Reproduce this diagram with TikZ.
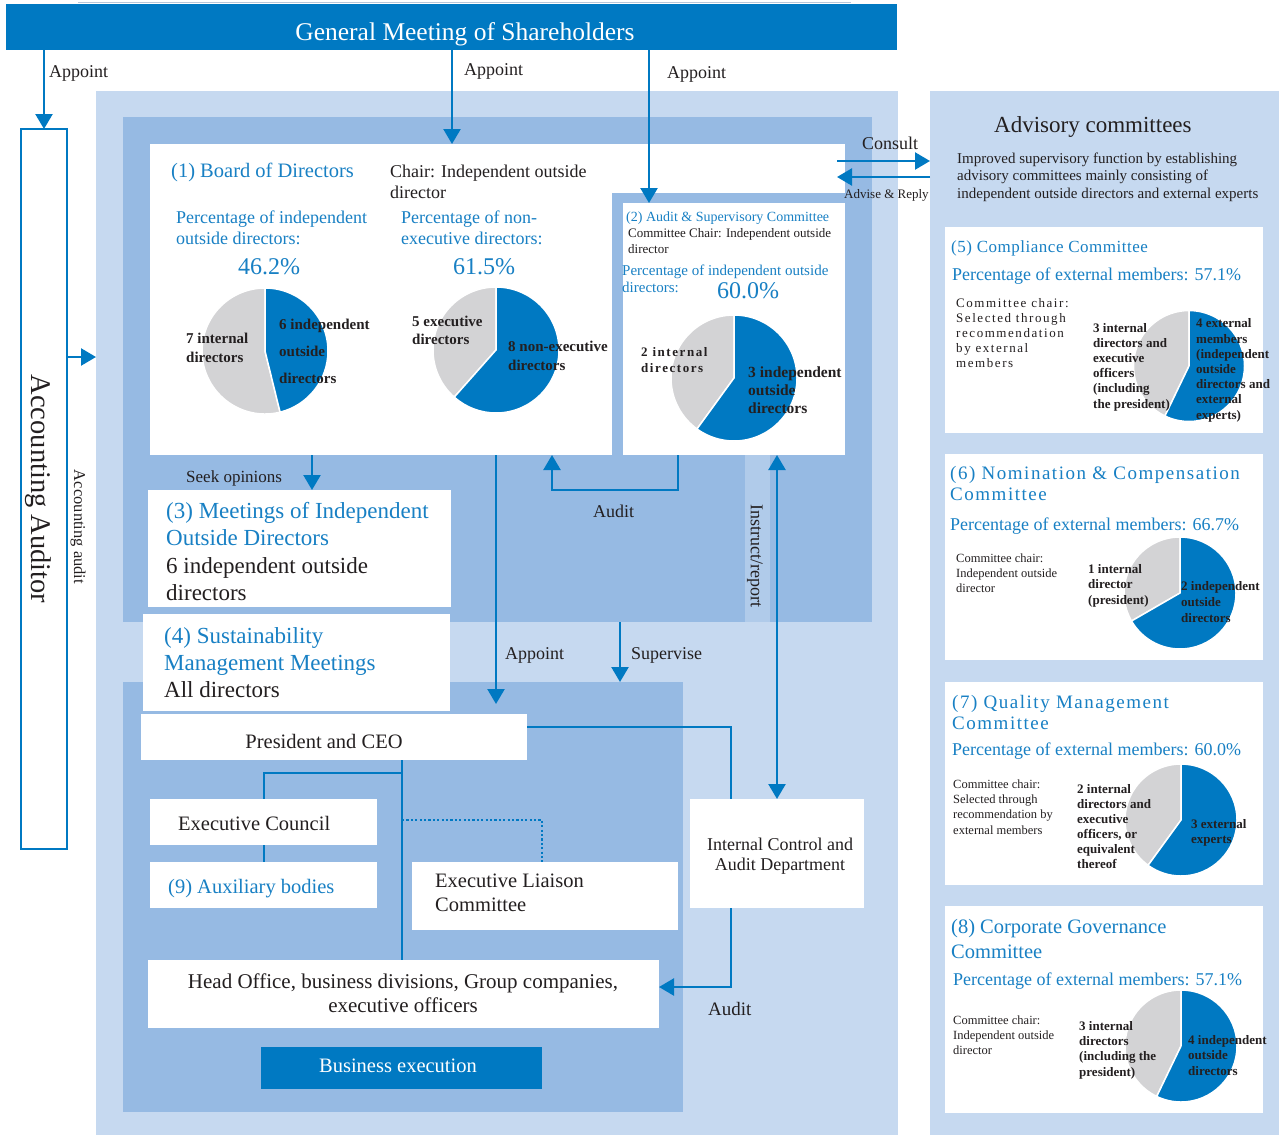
\documentclass[tikz,border=0pt]{standalone}
\usepackage{fontspec}
\setmainfont{Liberation Serif}
\newfontfamily\wideA[LetterSpace=3]{Liberation Serif}
\newfontfamily\wideB[LetterSpace=8]{Liberation Serif}
\newfontfamily\wideC[LetterSpace=12]{Liberation Serif}
\usetikzlibrary{arrows.meta}

\definecolor{corpblue}{RGB}{0,121,194}
\definecolor{textblue}{RGB}{24,128,196}
\definecolor{midblue}{RGB}{150,186,227}
\definecolor{paleblue}{RGB}{198,217,240}
\definecolor{piegrey}{RGB}{211,211,213}
\definecolor{ink}{RGB}{35,31,32}

\newcommand{\sz}[2]{\fontsize{#1}{#2}\selectfont}
% panel: style, name, x1, y1, x2, y2 (y runs downwards)
\newcommand{\panel}[6]{\node[#1, anchor=north west, minimum width=#5-#3, minimum height=#6-#4] (#2) at (#3,#4) {};}
% pie: centre, radius, blue share (blue runs clockwise from the top)
\newcommand{\pie}[3]{%
  \begin{scope}[shift={(#1)}, x=1pt, y=1pt]
    \fill[piegrey, draw=white, line width=1.5] (0,0) -- (90-#3*360:#2) arc[start angle=90-#3*360, end angle=-270, radius=#2] -- cycle;
    \fill[corpblue, draw=white, line width=1.5] (0,0) -- (90:#2) arc[start angle=90, end angle=90-#3*360, radius=#2] -- cycle;
  \end{scope}}

% text nodes sit on the baseline of their last line
\tikzset{
  panelbox/.style={inner sep=0, outer sep=0, draw=none},
  wbox/.style={panelbox, fill=white},
  mbox/.style={panelbox, fill=midblue},
  pbox/.style={panelbox, fill=paleblue},
  bbox/.style={panelbox, fill=corpblue},
  txt/.style={inner sep=0, anchor=base west, align=left, text=ink},
  bluetxt/.style={txt, text=textblue},
  ctxt/.style={txt, anchor=base, align=center},
  vtxt/.style={inner sep=0, rotate=-90, text=ink},
  line/.style={corpblue, line width=2.4},
  arr/.style={line, -{Triangle[length=15pt,width=17pt]}},
  arrs/.style={line, {Triangle[length=15pt,width=17pt]}-{Triangle[length=15pt,width=17pt]}},
  dotline/.style={line, line width=2.2, dash pattern=on 2.2pt off 2.2pt},
}

\begin{document}
\begin{tikzpicture}[x=1pt, y=-1pt]
\fill[white] (0,0) rectangle (1279,1135);
\useasboundingbox (0,0) rectangle (1279,1135);

% title bar
\draw[paleblue!80!gray, line width=1] (78,2.5) -- (851,2.5);
\panel{bbox}{gm}{6}{4}{897}{50}
\node[ctxt, text=white, font=\sz{25.5}{30}] (gmT) at (465,40) {General Meeting of Shareholders};

% back panels
\panel{pbox}{mid}{96}{91}{898}{1135}
\panel{pbox}{adv}{930}{91}{1279}{1135}
\panel{mbox}{sup}{123}{117}{872}{622}
\panel{mbox}{exe}{123}{682}{683}{1112}

% board and audit committee
\panel{wbox}{bod}{150}{144}{845}{455}
\panel{mbox}{ascF}{612}{193}{845}{455}
\panel{wbox}{asc}{623}{203}{845}{455}
\panel{panelbox, fill=paleblue!55!midblue}{irS}{745}{455}{770}{622}

% supervision side
\panel{wbox}{meet}{148}{490}{451}{607}
\panel{wbox}{sust}{143}{614}{450}{711}

% execution side
\panel{wbox}{pres}{141}{714}{527}{760}
\panel{wbox}{exc}{150}{799}{377}{845}
\panel{wbox}{aux}{150}{862}{377}{908}
\panel{wbox}{lia}{412}{862}{678}{930}
\panel{wbox}{hoff}{148}{960}{659}{1028}
\panel{bbox}{bex}{261}{1047}{542}{1089}
\panel{wbox}{icad}{690}{799}{864}{908}

% advisory committees
\panel{wbox}{cmp}{945}{227}{1263}{433}
\panel{wbox}{nom}{945}{454}{1263}{660}
\panel{wbox}{qm}{945}{682}{1263}{885}
\panel{wbox}{cg}{945}{906}{1263}{1113}

% accounting auditor
\panel{wbox, draw=corpblue, line width=2.4}{aud}{21}{129}{67}{849}

% connectors
\coordinate (xB) at (452,0);
\coordinate (xC) at (649,0);
\coordinate (xS) at (312,0);
\coordinate (xP) at (496,0);
\coordinate (xL) at (552,0);
\coordinate (xR) at (678,0);
\coordinate (xI) at (777,0);
\coordinate (xV) at (620,0);
\coordinate (xK) at (731,0);
\coordinate (xT) at (402,0);
\coordinate (xE) at (264,0);
\coordinate (xQ) at (542,0);
\coordinate (yA) at (0,357);
\coordinate (yK) at (0,727);
\coordinate (yL) at (0,987);
\coordinate (yB) at (0,773);
\coordinate (yD) at (0,820);
\coordinate (cA) at (837,161);
\coordinate (cB) at (837,177);

\draw[arr] (gm.south -| aud.north) -- (aud.north);
\draw[arr] (gm.south -| xB) -- (bod.north -| xB);
\draw[arr] (gm.south -| xC) -- (asc.north -| xC);
\draw[arr] (aud.east |- yA) -- (mid.west |- yA);
\draw[arr] (cA) -- (adv.west |- cA);
\draw[arr] (adv.west |- cB) -- (cB);
\draw[arr] (bod.south -| xS) -- (meet.north -| xS);
\draw[arr, shorten >=10pt] (bod.south -| xP) -- (pres.north -| xP);
\draw[arr] (asc.south -| xR) -- ++(0,35) -| (bod.south -| xL);
\draw[arrs] (asc.south -| xI) -- (icad.north -| xI);
\draw[arr] (sup.south -| xV) -- (exe.north -| xV);
\draw[line] (pres.east |- yK) -| (icad.north -| xK);
\draw[arr] (icad.south -| xK) |- (hoff.east |- yL);
\draw[line] (pres.south -| xT) -- (hoff.north -| xT);
\draw[line] (xT |- yB) -| (exc.north -| xE);
\draw[line] (exc.south -| xE) -- (aux.north -| xE);
\draw[dotline] (xT |- yD) -| (lia.north -| xQ);

% connector labels
\node[txt, font=\sz{18}{20}] (apA) at (49,77) {Appoint};
\node[txt, font=\sz{18}{20}] (apB) at (464,75) {Appoint};
\node[txt, font=\sz{18}{20}] (apC) at (667,78) {Appoint};
\node[vtxt, font=\sz{16.5}{18}] (audL) at (78,527) {Accounting audit};
\node[ctxt, font=\sz{18}{20}] (conT) at (890,149) {Consult};
\node[txt, font=\sz{13}{15}] (advT) at (844,198) {Advise \& Reply};
\node[txt, font=\sz{17}{19}] (seekT) at (186,482) {Seek opinions};
\node[txt, font=\sz{18}{20}] (apD) at (505,659) {Appoint};
\node[txt, font=\sz{18}{20}] (supT) at (631,659) {Supervise};
\node[txt, font=\sz{18}{20}] (audA) at (593,517) {Audit};
\node[vtxt, font=\sz{18}{20}] (irT) at (755,556) {Instruct/report};
\node[txt, font=\sz{19}{21}] (audB) at (708,1015) {Audit};

% accounting auditor text
\node[vtxt, font=\sz{28.5}{30}] (audT) at (38,489) {Accounting Auditor};

% (1) board of directors
\node[bluetxt, font=\sz{20.5}{24}] (bodT) at (171,177) {(1) Board of Directors};
\node[txt, font=\sz{18}{21}] (bodC) at (390,198) {Chair: Independent outside\\director};
\node[bluetxt, font=\sz{18}{21}] (bodP1) at (176,244) {Percentage of independent\\outside directors:};
\node[bluetxt, anchor=base, font=\sz{24}{26}] (bodV1) at (269,274) {46.2\%};
\node[bluetxt, font=\sz{18}{21}] (bodP2) at (401,244) {Percentage of non-\\executive directors:};
\node[bluetxt, anchor=base, font=\sz{24}{26}] (bodV2) at (484,274) {61.5\%};
\pie{265,351}{63}{6/13}
\pie{496,350}{63}{8/13}
\node[txt, font=\bfseries\sz{15}{19}] (bodI1) at (186,362) {7 internal\\directors};
\node[txt, font=\bfseries\sz{15}{27}] (bodO1) at (279,383) {6 independent\\outside\\directors};
\node[txt, font=\bfseries\sz{15}{18}] (bodI2) at (412,344) {5 executive\\directors};
\node[txt, font=\bfseries\sz{15}{19}] (bodO2) at (508,370) {8 non-executive\\directors};

% (2) audit & supervisory committee
\node[bluetxt, font=\sz{14}{16}] (ascT) at (626,221) {(2) Audit \& Supervisory Committee};
\node[txt, font=\sz{13}{16}] (ascC) at (628,253) {Committee Chair: Independent outside\\director};
\node[bluetxt, font=\sz{15}{17}] (ascP) at (622,292) {Percentage of independent outside\\directors:};
\node[bluetxt, font=\sz{24}{26}] (ascV) at (717,298) {60.0\%};
\pie{734,378}{63}{0.6}
\node[txt, font=\wideC\bfseries\sz{13}{16}] (ascI) at (641,372) {2 internal\\directors};
\node[txt, font=\bfseries\sz{15.5}{18}] (ascO) at (748,413) {3 independent\\outside\\directors};

% (3), (4) meetings
\node[txt, font=\sz{23}{27.5}] (meetT) at (166,600.5) {\textcolor{textblue}{(3) Meetings of Independent}\\\textcolor{textblue}{Outside Directors}\\6 independent outside\\directors};
\node[txt, font=\sz{23}{27}] (sustT) at (164,697) {\textcolor{textblue}{(4) Sustainability}\\\textcolor{textblue}{Management Meetings}\\All directors};

% execution
\node[ctxt, font=\sz{20.5}{24}] (presT) at (324,748) {President and CEO};
\node[txt, font=\sz{20.5}{24}] (excT) at (178,830) {Executive Council};
\node[bluetxt, font=\sz{20.5}{24}] (auxT) at (168,893) {(9) Auxiliary bodies};
\node[txt, font=\sz{20.5}{24}] (liaT) at (435,911) {Executive Liaison\\Committee};
\node[ctxt, font=\sz{21}{24}] (hoffT) at (403,1012) {Head Office, business divisions, Group companies,\\executive officers};
\node[ctxt, text=white, font=\sz{20.5}{24}] (bexT) at (398,1072) {Business execution};
\node[ctxt, font=\sz{18}{20}] (icadT) at (780,870) {Internal Control and\\Audit Department};

% advisory committees
\node[txt, font=\sz{23}{26}] (advH) at (994,132) {Advisory committees};
\node[txt, font=\sz{15}{17.5}] (advD) at (957,198) {Improved supervisory function by establishing\\advisory committees mainly consisting of\\independent outside directors and external experts};

% (5) compliance
\node[bluetxt, font=\wideA\sz{17}{20}] (cmpT) at (951,252) {(5) Compliance Committee};
\node[bluetxt, font=\sz{18}{20}] (cmpP) at (952,280) {Percentage of external members: 57.1\%};
\node[txt, font=\wideC\sz{13}{15}] (cmpC) at (956,367) {Committee chair:\\Selected through\\recommendation\\by external\\members};
\pie{1189,366}{55.5}{4/7}
\node[txt, font=\bfseries\sz{13}{15.2}] (cmpI) at (1093,408) {3 internal\\directors and\\executive\\officers\\(including\\the president)};
\node[txt, font=\bfseries\sz{13}{15.2}] (cmpO) at (1196,419) {4 external\\members\\(independent\\outside\\directors and\\external\\experts)};

% (6) nomination & compensation
\node[bluetxt, font=\wideB\sz{19}{21}] (nomT) at (950,500) {(6) Nomination \& Compensation\\Committee};
\node[bluetxt, font=\sz{18}{20}] (nomP) at (950,530) {Percentage of external members: 66.7\%};
\node[txt, font=\sz{12.5}{15}] (nomC) at (956,592) {Committee chair:\\Independent outside\\director};
\pie{1180,593}{56}{2/3}
\node[txt, font=\bfseries\sz{13}{15.5}] (nomI) at (1088,604) {1 internal\\director\\(president)};
\node[txt, font=\bfseries\sz{13}{16}] (nomO) at (1181,622) {2 independent\\outside\\directors};

% (7) quality management
\node[bluetxt, font=\wideB\sz{19}{21}] (qmT) at (952,729) {(7) Quality Management\\Committee};
\node[bluetxt, font=\sz{18}{20}] (qmP) at (952,755) {Percentage of external members: 60.0\%};
\node[txt, font=\sz{12.5}{15.3}] (qmC) at (953,834) {Committee chair:\\Selected through\\recommendation by\\external members};
\pie{1181,820}{56}{0.6}
\node[txt, font=\bfseries\sz{13}{15}] (qmI) at (1077,868) {2 internal\\directors and\\executive\\officers, or\\equivalent\\thereof};
\node[txt, font=\bfseries\sz{13}{15}] (qmO) at (1191,843) {3 external\\experts};

% (8) corporate governance
\node[bluetxt, font=\sz{20.5}{25}] (cgT) at (951,958) {(8) Corporate Governance\\Committee};
\node[bluetxt, font=\sz{18}{20}] (cgP) at (953,985) {Percentage of external members: 57.1\%};
\node[txt, font=\sz{12.5}{15}] (cgC) at (953,1054) {Committee chair:\\Independent outside\\director};
\pie{1181,1046}{56}{4/7}
\node[txt, font=\bfseries\sz{13}{15.3}] (cgI) at (1079,1076) {3 internal\\directors\\(including the\\president)};
\node[txt, font=\bfseries\sz{13}{15.5}] (cgO) at (1188,1075) {4 independent\\outside\\directors};
\end{tikzpicture}
\end{document}
